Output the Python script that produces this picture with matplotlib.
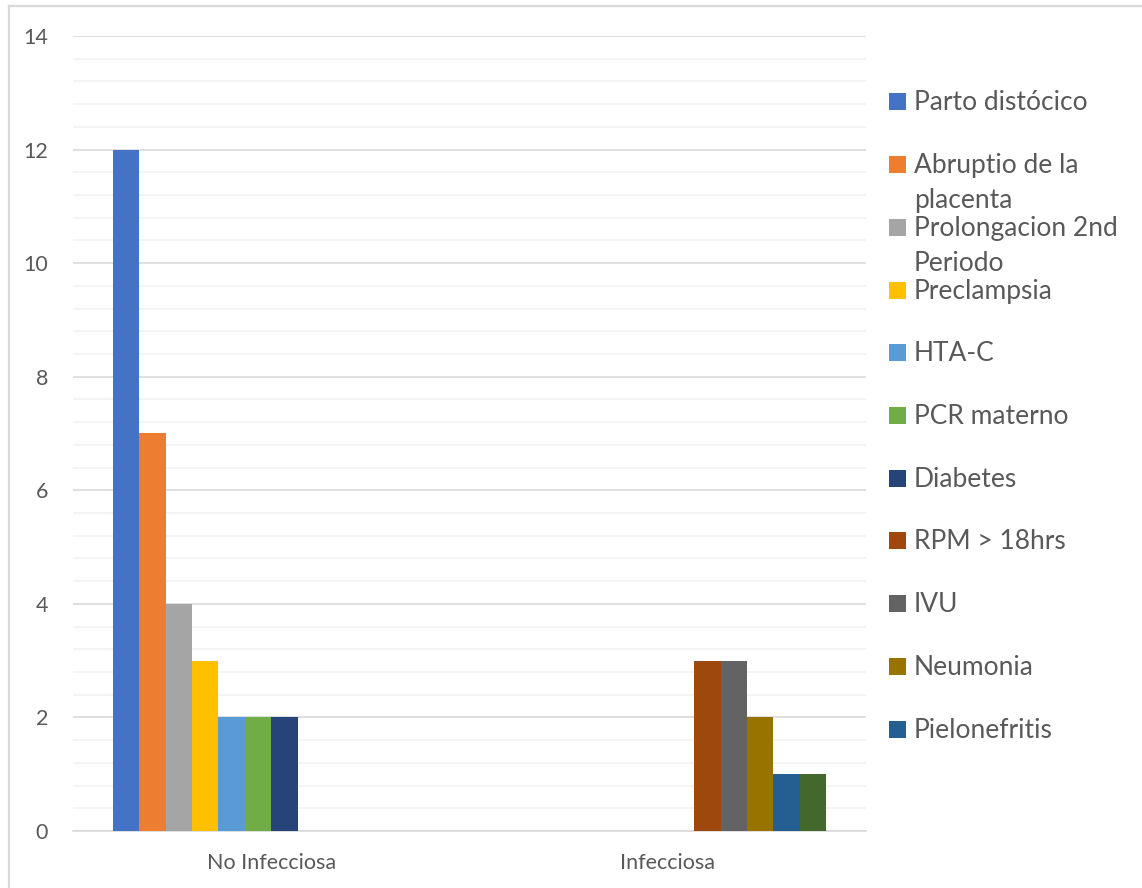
import matplotlib
matplotlib.use("Agg")
import matplotlib.pyplot as plt
from matplotlib.patches import Rectangle
from matplotlib.lines import Line2D
from matplotlib.ticker import MultipleLocator
import numpy as np

plt.rcParams['font.family'] = ['Lato', 'DejaVu Sans']

categories = ["No Infecciosa", "Infecciosa"]

parto_distocico = [12, 0]
abruptio_placenta = [7, 0]
prolongacion_2nd = [4, 0]
preclampsia = [3, 0]
hta_c = [2, 0]
pcr_materno = [2, 0]
diabetes = [2, 0]
rpm_18hrs = [0, 3]
ivu = [0, 3]
neumonia = [0, 2]
pielonefritis = [0, 1]
otra_infeccion = [0, 1]

series = [parto_distocico, abruptio_placenta, prolongacion_2nd, preclampsia,
          hta_c, pcr_materno, diabetes, rpm_18hrs, ivu, neumonia,
          pielonefritis, otra_infeccion]

legend_labels = ["Parto distócico", "Abruptio de la\nplacenta",
                 "Prolongacion 2nd\nPeriodo", "Preclampsia", "HTA-C",
                 "PCR materno", "Diabetes", "RPM > 18hrs", "IVU",
                 "Neumonia", "Pielonefritis"]

colors = ["#4472C4", "#ED7D31", "#A5A5A5", "#FFC000", "#5B9BD5", "#70AD47",
          "#264478", "#9E480E", "#636363", "#997300", "#255E91", "#43682B"]

W, H = 1142, 888
fig = plt.figure(figsize=(W / 100, H / 100), dpi=100)


def fx(px):
    return px / W


def fy(py):
    return 1 - py / H


# chart frame: top and left edges
fig.add_artist(Line2D([fx(8.5), 1], [fy(6.5), fy(6.5)], transform=fig.transFigure,
                      color="#D9D9D9", linewidth=1.6))
fig.add_artist(Line2D([fx(8.5), fx(8.5)], [fy(6.5), 0], transform=fig.transFigure,
                      color="#D9D9D9", linewidth=1.6))

ax = fig.add_axes([fx(73), fy(831), fx(866 - 73), (831 - 36) / H])

n = len(series)
group_width = 0.8
bar_w = group_width / n
x = np.arange(len(categories))
for i, (vals, col) in enumerate(zip(series, colors)):
    offs = -group_width / 2 + bar_w * (i + 0.5)
    ax.bar(x + offs, vals, width=bar_w, color=col, linewidth=0, zorder=3)

ax.set_xlim(-0.5, 1.5)
ax.set_ylim(0, 14)
ax.yaxis.set_major_locator(MultipleLocator(2))
ax.yaxis.set_minor_locator(MultipleLocator(0.4))
ax.grid(axis='y', which='major', color="#D9D9D9", linewidth=1.2, zorder=0)
ax.grid(axis='y', which='minor', color="#F2F2F2", linewidth=1.2, zorder=0)
ax.set_xticks(x)
ax.set_xticklabels(categories)
for s in ['top', 'right', 'left']:
    ax.spines[s].set_visible(False)
ax.spines['bottom'].set_color("#D9D9D9")
ax.spines['bottom'].set_linewidth(1.2)
ax.tick_params(axis='both', which='both', length=0, colors="#595959", labelsize=15.5)
ax.tick_params(axis='y', pad=18)
ax.tick_params(axis='x', pad=16)

# legend drawn as a column of colour keys with labels
legend_y0 = 102
legend_step = 62.7
for i, lab in enumerate(legend_labels):
    yc = legend_y0 + i * legend_step
    fig.patches.append(Rectangle((fx(889), fy(yc + 8.5)), fx(17), 17 / H,
                                 transform=fig.transFigure, facecolor=colors[i],
                                 edgecolor='none'))
    lines = lab.split("\n")
    for k, line in enumerate(lines):
        fig.text(fx(914), fy(yc + 8.5 + k * 35), line, ha='left',
                 va='baseline', fontsize=19, color="#595959")

fig.savefig("out.png", dpi=100)
